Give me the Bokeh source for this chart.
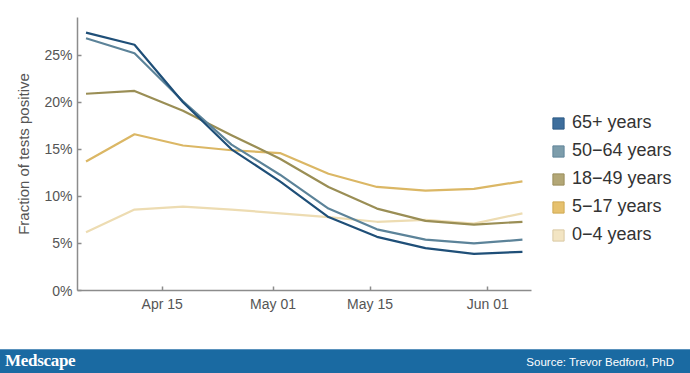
from datetime import datetime
from bokeh.plotting import figure
from bokeh.models import (Range1d, FixedTicker, NumeralTickFormatter, DaysTicker,
                          DatetimeTickFormatter, Legend, LegendItem, Div)
from bokeh.layouts import column
from bokeh.embed import file_html
from bokeh.resources import INLINE

# ---------------- data ----------------
dates = ["2020-04-04", "2020-04-11", "2020-04-18", "2020-04-25", "2020-05-02",
         "2020-05-09", "2020-05-16", "2020-05-23", "2020-05-30", "2020-06-06"]
age_65_plus = [27.4, 26.1, 20.0, 15.0, 11.6, 7.8, 5.7, 4.5, 3.9, 4.1]
age_50_64 = [26.8, 25.2, 20.1, 15.5, 12.3, 8.7, 6.5, 5.4, 5.0, 5.4]
age_18_49 = [20.9, 21.2, 19.1, 16.5, 14.0, 11.0, 8.7, 7.4, 7.0, 7.3]
age_5_17 = [13.7, 16.6, 15.4, 14.9, 14.6, 12.4, 11.0, 10.6, 10.8, 11.6]
age_0_4 = [6.2, 8.6, 8.9, 8.6, 8.2, 7.8, 7.3, 7.5, 7.1, 8.2]
series_labels = ["65+ years", "50\u221264 years", "18\u221249 years", "5\u221217 years", "0\u22124 years"]
y_ticks = [0, 0.05, 0.10, 0.15, 0.20, 0.25]

# axis extent (where the drawn x axis starts/ends) and the wider frame extent
axis_start = datetime(2020, 4, 2, 18, 30)
axis_end = datetime(2020, 6, 7, 7, 0)
frame_end = datetime(2020, 6, 30, 6, 15)

line_colors = ["#1f4f78", "#5c8399", "#9a8e55", "#dbb765", "#eddcb2"]
patch_colors = ["#3e6e9c", "#7d9dab", "#b3a776", "#e6c16e", "#f3e5c3"]
patch_borders = ["#2d5a85", "#62869a", "#9a8e5c", "#cfa952", "#d9c9a3"]

x = [datetime.strptime(d, "%Y-%m-%d") for d in dates]
all_series = [age_65_plus, age_50_64, age_18_49, age_5_17, age_0_4]

FONT = "Liberation Sans"
AXIS_GREY = "#8c8c8c"
TEXT_GREY = "#555555"

p = figure(width=690, height=349, x_axis_type="datetime",
           x_range=Range1d(axis_start, frame_end),
           y_range=Range1d(0, 0.29),
           output_backend="svg", toolbar_location=None,
           min_border_left=77, min_border_right=0, min_border_top=17, min_border_bottom=59)
p.outline_line_color = None
p.background_fill_color = "white"
p.border_fill_color = "white"
p.grid.visible = False

# lines, lowest first so 65+ sits on top
for vals, col in reversed(list(zip(all_series, line_colors))):
    p.line(x=x, y=[v / 100 for v in vals], line_color=col, line_width=2.2, line_join="round")

# axes
p.yaxis.ticker = FixedTicker(ticks=y_ticks)
p.yaxis.formatter = NumeralTickFormatter(format="0%")
p.xaxis.ticker = DaysTicker(days=[1, 15])
p.xaxis.formatter = DatetimeTickFormatter(days="%b %d", months="%b %d")
p.xaxis.bounds = (axis_start, axis_end)
for ax in (p.xaxis[0], p.yaxis[0]):
    ax.axis_line_color = AXIS_GREY
    ax.axis_line_width = 1.5
    ax.major_tick_line_color = AXIS_GREY
    ax.major_tick_line_width = 1.5
    ax.major_tick_in = 4
    ax.major_tick_out = 0
    ax.minor_tick_line_color = None
    ax.major_label_text_font = FONT
    ax.major_label_text_font_size = "14px"
    ax.major_label_text_color = TEXT_GREY
p.xaxis.major_label_standoff = 5
p.yaxis.major_label_standoff = 5
p.yaxis.axis_label = "Fraction of tests positive"
p.yaxis.axis_label_text_font = FONT
p.yaxis.axis_label_text_font_size = "15px"
p.yaxis.axis_label_text_font_style = "normal"
p.yaxis.axis_label_text_color = TEXT_GREY
p.yaxis.axis_label_standoff = 9

# legend with square patches (legend-only renderers carry no visible data)
nan = float("nan")
items = []
for lab, pc, bc in zip(series_labels, patch_colors, patch_borders):
    r = p.quad(left=[nan], right=[nan], top=[nan], bottom=[nan],
               fill_color=pc, line_color=bc, line_width=1)
    items.append(LegendItem(label=lab, renderers=[r]))
legend = Legend(items=items, location=(474, 45), padding=0, margin=0,
                glyph_width=14, glyph_height=14, label_height=20, spacing=7,
                label_standoff=7, label_text_font=FONT, label_text_font_size="18px",
                label_text_color="#333333", border_line_color=None,
                background_fill_alpha=0)
p.add_layout(legend, "center")

# footer bar
footer_html = (
    '<div style="position:relative;width:690px;height:24px;background:#1a6aa2;'
    'border-top:1px solid #5a92bd;box-sizing:border-box;overflow:visible;">'
    '<span style="position:absolute;left:5px;top:1px;font-family:\'Liberation Serif\';'
    'font-weight:bold;font-size:17px;line-height:20px;letter-spacing:-0.3px;color:#ffffff;">Medscape</span>'
    '<span style="position:absolute;right:16px;top:5px;font-family:\'Liberation Sans\';'
    'font-size:11.5px;line-height:14px;color:#ffffff;white-space:nowrap;">Source: Trevor Bedford, PhD</span>'
    '</div>'
)
footer = Div(text=footer_html, width=690, height=24, margin=0)

layout = column(p, footer, spacing=0)
open("out.html", "w").write(file_html(layout, INLINE))
